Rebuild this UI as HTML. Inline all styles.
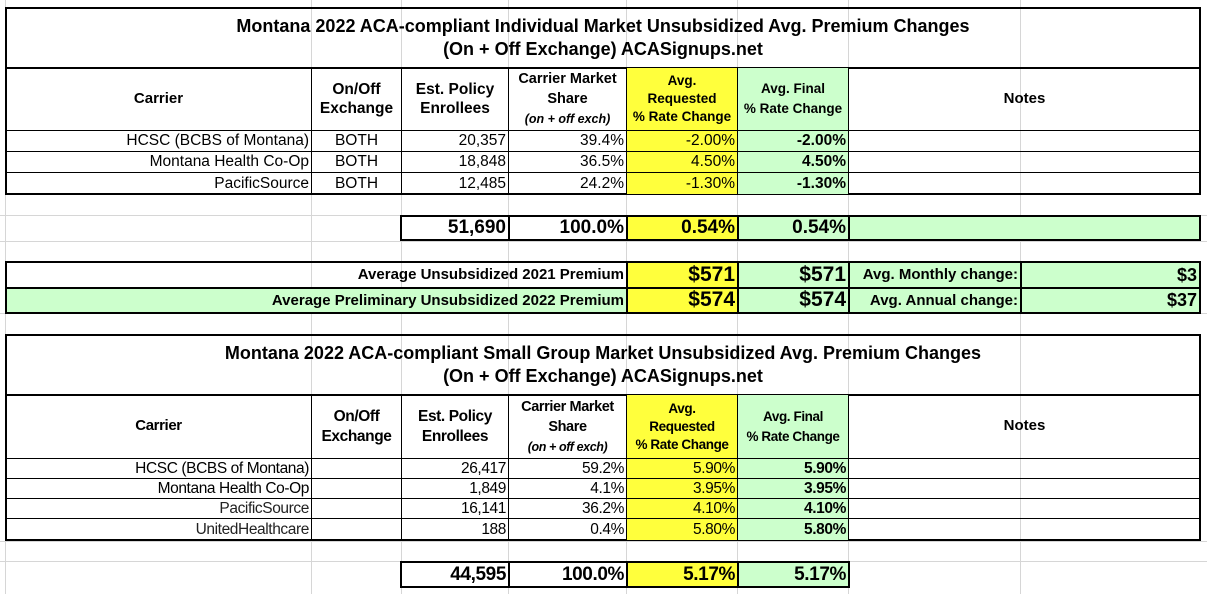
<!DOCTYPE html>
<html><head><meta charset="utf-8">
<style>
body{margin:0;width:1207px;height:594px;position:relative;overflow:hidden;background:#fff;font-family:"Liberation Sans",Arial,sans-serif;color:#000}
.g{position:absolute;background:#d6d6d6}
.c{position:absolute;box-sizing:border-box;border:1px solid #000;display:flex;align-items:center;font-size:15.5px;padding:0 2px;white-space:nowrap;overflow:hidden;line-height:1.15}
.r{justify-content:flex-end}
.m{justify-content:center;text-align:center}
.b{font-weight:bold}
.y{background:#ffff3c}
.gr{background:#ccffcc}
.t{border:2px solid #000}
.big{font-size:19px;font-weight:bold}
.ttl{font-size:18px;font-weight:bold}
.h{font-size:15px;font-weight:bold;flex-direction:column;justify-content:center;line-height:1.25}
.n{letter-spacing:-0.4px}
</style></head><body>
<!-- gridlines -->
<div class="g" style="left:5px;top:0;width:1px;height:594px"></div>
<div class="g" style="left:311px;top:0;width:1px;height:594px"></div>
<div class="g" style="left:401px;top:0;width:1px;height:594px"></div>
<div class="g" style="left:508px;top:0;width:1px;height:594px"></div>
<div class="g" style="left:626px;top:0;width:1px;height:594px"></div>
<div class="g" style="left:737px;top:0;width:1px;height:594px"></div>
<div class="g" style="left:848px;top:0;width:1px;height:594px"></div>
<div class="g" style="left:1020px;top:0;width:1px;height:594px"></div>
<div class="g" style="left:0;top:215px;width:1207px;height:1px"></div>
<div class="g" style="left:0;top:241px;width:1207px;height:1px"></div>
<div class="g" style="left:0;top:313px;width:1207px;height:1px"></div>
<div class="g" style="left:0;top:541px;width:1207px;height:1px"></div>
<div class="g" style="left:0;top:561px;width:1207px;height:1px"></div>

<!-- Table 1 -->
<div class="c t m ttl" style="left:5px;top:7px;width:1196px;height:62px;flex-direction:column;line-height:23px">Montana 2022 ACA-compliant Individual Market Unsubsidized Avg. Premium Changes<br>(On + Off Exchange) ACASignups.net</div>
<div class="c t" style="left:5px;top:67px;width:1196px;height:128px;border-top:none"></div>
<div class="c h m" style="left:6px;top:68px;width:306px;height:63px;border-left:none;border-top:none">Carrier</div>
<div class="c h m" style="left:311px;top:68px;width:91px;height:63px;border-top:none;font-size:15.5px">On/Off<br>Exchange</div>
<div class="c h m" style="left:401px;top:68px;width:108px;height:63px;border-top:none;font-size:15.5px">Est. Policy<br>Enrollees</div>
<div class="c h m" style="left:508px;top:68px;width:119px;height:63px;border-top:none;font-size:14.5px;line-height:20px">Carrier Market<br>Share<br><i style="font-size:12.5px">(on + off exch)</i></div>
<div class="c h m y" style="left:626px;top:68px;width:112px;height:63px;border-top:none;font-size:13.5px;line-height:18px">Avg.<br>Requested<br>% Rate Change</div>
<div class="c h m gr" style="left:737px;top:68px;width:112px;height:63px;border-top:none;font-size:13.5px;line-height:20px">Avg. Final<br>% Rate Change</div>
<div class="c h m" style="left:848px;top:68px;width:352px;height:63px;border-top:none;border-right:none">Notes</div>

<div class="c r" style="left:6px;top:130px;width:306px;height:22px;border-left:none">HCSC (BCBS of Montana)</div>
<div class="c m" style="left:311px;top:130px;width:91px;height:22px">BOTH</div>
<div class="c r" style="left:401px;top:130px;width:108px;height:22px">20,357</div>
<div class="c r" style="left:508px;top:130px;width:119px;height:22px">39.4%</div>
<div class="c r y" style="left:626px;top:130px;width:112px;height:22px">-2.00%</div>
<div class="c r gr b" style="left:737px;top:130px;width:112px;height:22px">-2.00%</div>
<div class="c" style="left:848px;top:130px;width:352px;height:22px;border-right:none"></div>

<div class="c r" style="left:6px;top:151px;width:306px;height:22px;border-left:none">Montana Health Co-Op</div>
<div class="c m" style="left:311px;top:151px;width:91px;height:22px">BOTH</div>
<div class="c r" style="left:401px;top:151px;width:108px;height:22px">18,848</div>
<div class="c r" style="left:508px;top:151px;width:119px;height:22px">36.5%</div>
<div class="c r y" style="left:626px;top:151px;width:112px;height:22px">4.50%</div>
<div class="c r gr b" style="left:737px;top:151px;width:112px;height:22px">4.50%</div>
<div class="c" style="left:848px;top:151px;width:352px;height:22px;border-right:none"></div>

<div class="c r" style="left:6px;top:172px;width:306px;height:22px;border-left:none;border-bottom:none">PacificSource</div>
<div class="c m" style="left:311px;top:172px;width:91px;height:22px;border-bottom:none">BOTH</div>
<div class="c r" style="left:401px;top:172px;width:108px;height:22px;border-bottom:none">12,485</div>
<div class="c r" style="left:508px;top:172px;width:119px;height:22px;border-bottom:none">24.2%</div>
<div class="c r y" style="left:626px;top:172px;width:112px;height:22px;border-bottom:none">-1.30%</div>
<div class="c r gr b" style="left:737px;top:172px;width:112px;height:22px;border-bottom:none">-1.30%</div>

<!-- totals 1 -->
<div class="c t r big" style="left:400px;top:215px;width:110px;height:26px">51,690</div>
<div class="c t r big" style="left:508px;top:215px;width:120px;height:26px">100.0%</div>
<div class="c t r big y" style="left:626px;top:215px;width:113px;height:26px">0.54%</div>
<div class="c t r big gr" style="left:737px;top:215px;width:113px;height:26px">0.54%</div>
<div class="c t gr" style="left:848px;top:215px;width:353px;height:26px"></div>

<!-- premiums -->
<div class="c t r b" style="left:5px;top:261px;width:623px;height:28px;font-size:15px">Average Unsubsidized 2021 Premium</div>
<div class="c t r y" style="left:626px;top:261px;width:113px;height:28px;font-size:21px;font-weight:bold">$571</div>
<div class="c t r gr" style="left:737px;top:261px;width:113px;height:28px;font-size:21px;font-weight:bold">$571</div>
<div class="c t r gr b" style="left:848px;top:261px;width:174px;height:28px;font-size:15px">Avg. Monthly change:</div>
<div class="c t r gr b" style="left:1020px;top:261px;width:181px;height:28px;font-size:18px">$3</div>

<div class="c t r b gr" style="left:5px;top:287px;width:623px;height:27px;font-size:15px">Average Preliminary Unsubsidized 2022 Premium</div>
<div class="c t r y" style="left:626px;top:287px;width:113px;height:27px;font-size:21px;font-weight:bold">$574</div>
<div class="c t r gr" style="left:737px;top:287px;width:113px;height:27px;font-size:21px;font-weight:bold">$574</div>
<div class="c t r gr b" style="left:848px;top:287px;width:174px;height:27px;font-size:15px">Avg. Annual change:</div>
<div class="c t r gr b" style="left:1020px;top:287px;width:181px;height:27px;font-size:18px">$37</div>

<!-- Table 2 -->
<div class="c t m ttl" style="left:5px;top:334px;width:1196px;height:62px;flex-direction:column;line-height:23px">Montana 2022 ACA-compliant Small Group Market Unsubsidized Avg. Premium Changes<br>(On + Off Exchange) ACASignups.net</div>
<div class="c t" style="left:5px;top:394px;width:1196px;height:147px;border-top:none"></div>
<div class="c h m n" style="left:6px;top:395px;width:306px;height:64px;border-left:none;border-top:none">Carrier</div>
<div class="c h m n" style="left:311px;top:395px;width:91px;height:64px;border-top:none;font-size:15.5px">On/Off<br>Exchange</div>
<div class="c h m n" style="left:401px;top:395px;width:108px;height:64px;border-top:none;font-size:15.5px">Est. Policy<br>Enrollees</div>
<div class="c h m n" style="left:508px;top:395px;width:119px;height:64px;border-top:none;font-size:14.5px;line-height:20px">Carrier Market<br>Share<br><i style="font-size:12.5px">(on + off exch)</i></div>
<div class="c h m y n" style="left:626px;top:395px;width:112px;height:64px;border-top:none;font-size:13.5px;line-height:18px">Avg.<br>Requested<br>% Rate Change</div>
<div class="c h m gr n" style="left:737px;top:395px;width:112px;height:64px;border-top:none;font-size:13.5px;line-height:20px">Avg. Final<br>% Rate Change</div>
<div class="c h m" style="left:848px;top:395px;width:352px;height:64px;border-top:none;border-right:none">Notes</div>

<div class="c r n" style="left:6px;top:458px;width:306px;height:21px;border-left:none">HCSC (BCBS of Montana)</div>
<div class="c" style="left:311px;top:458px;width:91px;height:21px"></div>
<div class="c r n" style="left:401px;top:458px;width:108px;height:21px">26,417</div>
<div class="c r n" style="left:508px;top:458px;width:119px;height:21px">59.2%</div>
<div class="c r y n" style="left:626px;top:458px;width:112px;height:21px">5.90%</div>
<div class="c r gr b n" style="left:737px;top:458px;width:112px;height:21px">5.90%</div>
<div class="c" style="left:848px;top:458px;width:352px;height:21px;border-right:none"></div>

<div class="c r n" style="left:6px;top:478px;width:306px;height:21px;border-left:none">Montana Health Co-Op</div>
<div class="c" style="left:311px;top:478px;width:91px;height:21px"></div>
<div class="c r n" style="left:401px;top:478px;width:108px;height:21px">1,849</div>
<div class="c r n" style="left:508px;top:478px;width:119px;height:21px">4.1%</div>
<div class="c r y n" style="left:626px;top:478px;width:112px;height:21px">3.95%</div>
<div class="c r gr b n" style="left:737px;top:478px;width:112px;height:21px">3.95%</div>
<div class="c" style="left:848px;top:478px;width:352px;height:21px;border-right:none"></div>

<div class="c r n" style="left:6px;top:498px;width:306px;height:21px;border-left:none;color:#222">PacificSource</div>
<div class="c" style="left:311px;top:498px;width:91px;height:21px"></div>
<div class="c r n" style="left:401px;top:498px;width:108px;height:21px">16,141</div>
<div class="c r n" style="left:508px;top:498px;width:119px;height:21px">36.2%</div>
<div class="c r y n" style="left:626px;top:498px;width:112px;height:21px">4.10%</div>
<div class="c r gr b n" style="left:737px;top:498px;width:112px;height:21px">4.10%</div>
<div class="c" style="left:848px;top:498px;width:352px;height:21px;border-right:none"></div>

<div class="c r n" style="left:6px;top:518px;width:306px;height:22px;border-left:none;border-bottom:none;color:#222">UnitedHealthcare</div>
<div class="c" style="left:311px;top:518px;width:91px;height:22px;border-bottom:none"></div>
<div class="c r n" style="left:401px;top:518px;width:108px;height:22px;border-bottom:none">188</div>
<div class="c r n" style="left:508px;top:518px;width:119px;height:22px;border-bottom:none">0.4%</div>
<div class="c r y n" style="left:626px;top:518px;width:112px;height:22px;border-bottom:none">5.80%</div>
<div class="c r gr b n" style="left:737px;top:518px;width:112px;height:22px;border-bottom:none">5.80%</div>

<!-- totals 2 -->
<div class="c t r big n" style="left:400px;top:561px;width:110px;height:27px">44,595</div>
<div class="c t r big n" style="left:508px;top:561px;width:120px;height:27px">100.0%</div>
<div class="c t r big y n" style="left:626px;top:561px;width:113px;height:27px">5.17%</div>
<div class="c t r big gr n" style="left:737px;top:561px;width:113px;height:27px">5.17%</div>
</body></html>
